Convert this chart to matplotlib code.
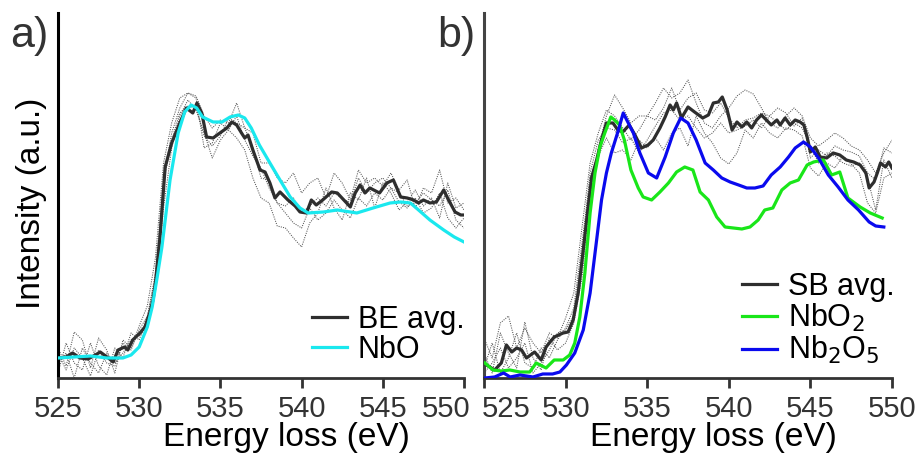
import matplotlib
matplotlib.use("Agg")
import matplotlib.pyplot as plt
import matplotlib.transforms as mtransforms

plt.rcParams['font.family'] = ['Liberation Sans', 'DejaVu Sans']

# ---- panel a) data ----
be_x = [525.0, 525.5, 525.9, 526.35, 526.85, 527.3, 527.6, 528.1, 528.4, 528.7, 529.1, 529.3, 529.6,
        530.05, 530.35, 530.65, 530.85, 531.0, 531.28, 531.6, 532.0, 532.5, 532.9, 533.3, 533.56,
        533.85, 534.15, 534.55, 534.97, 535.4, 535.7, 536.0, 536.3, 536.5, 536.7, 537.0, 537.44,
        537.75, 538.05, 538.36, 538.67, 539.16, 539.6, 539.9, 540.3, 540.6, 540.9, 541.3, 541.85,
        542.2, 542.6, 543.0, 543.3, 543.6, 543.9, 544.2, 544.8, 545.25, 545.65, 546.1, 546.5,
        546.9, 547.2, 547.5, 547.9, 548.3, 548.75, 549.05, 549.45, 549.8, 550.0]
be_y = [20, 21, 25, 20, 19, 23, 26, 20, 16, 28, 31, 28, 38, 45, 51, 65, 78, 95, 141, 211, 235, 255,
        270, 265, 275, 265, 241, 240, 245, 250, 256, 253, 245, 240, 243, 228, 208, 206, 195, 180,
        186, 178, 172, 166, 165, 178, 173, 178, 186, 185, 178, 171, 185, 193, 185, 190, 185, 195,
        198, 181, 180, 178, 175, 178, 175, 176, 188, 178, 166, 163, 163]

nbo_x = [525, 526, 527, 528, 529, 529.5, 530, 530.5, 530.8, 531.1, 531.4, 531.9, 532.4, 532.8,
         533.2, 533.54, 533.9, 534.55, 535.1, 535.6, 536.1, 536.5, 536.9, 537.4, 538.05, 538.67,
         539.3, 539.9, 540.4, 541.35, 542.2, 543.4, 544.4, 545.45, 546.1, 546.7, 547.2, 547.9,
         548.75, 549.4, 550]
nbo_y = [20, 21, 22, 20, 20, 23, 31, 51, 71, 100, 131, 198, 245, 266, 273, 270, 261, 256, 256,
         261, 263, 260, 250, 233, 215, 198, 181, 170, 165, 166, 168, 165, 170, 175, 176, 175, 168,
         158, 148, 141, 136]

# single spectra (dotted), sampled every 0.5 eV
grid = [525 + 0.5 * i for i in range(51)]
be_raw1 = [30, 12, 46, 38, 10, 40, 28, 5, 38, 30, 52, 72, 120, 215, 255, 280, 285, 282, 262, 250,
           258, 255, 275, 250, 245, 215, 215, 200, 195, 205, 185, 195, 200, 180, 205, 195, 178, 208,
           195, 200, 192, 205, 188, 198, 170, 190, 185, 208, 175, 180, 168]
be_raw2 = [5, 35, 15, 8, 35, 12, 3, 30, 20, 45, 38, 60, 105, 200, 245, 270, 285, 280, 230, 235,
           255, 248, 240, 228, 200, 180, 175, 152, 150, 140, 131, 155, 165, 190, 170, 158, 185, 178,
           200, 170, 195, 185, 168, 176, 188, 172, 180, 160, 195, 170, 175]
be_raw3 = [15, 25, 0, 30, 15, 5, 25, 15, 25, 38, 42, 50, 88, 170, 230, 262, 278, 268, 245, 220,
           238, 248, 262, 238, 222, 210, 190, 175, 165, 155, 150, 170, 158, 165, 178, 168, 160, 180,
           172, 185, 178, 190, 176, 170, 180, 165, 170, 185, 160, 150, 160]
be_raw4 = [25, 8, 30, 20, 2, 28, 15, 12, 35, 28, 48, 62, 100, 195, 238, 265, 272, 270, 242, 232,
           242, 260, 255, 250, 230, 200, 198, 175, 172, 180, 165, 172, 180, 172, 185, 180, 175, 200,
           185, 195, 200, 190, 185, 172, 175, 185, 178, 172, 188, 158, 150]

# ---- panel b) data ----
sb_x = [525.15, 525.65, 526.06, 526.37, 526.7, 527.0, 527.3, 527.6, 528.1, 528.5, 528.8, 529.3,
        529.85, 530.15, 530.46, 530.77, 531.08, 531.38, 531.6, 531.9, 532.2, 532.5, 532.9, 533.2,
        533.5, 533.9, 534.25, 534.65, 535.05, 535.37, 535.78, 536.1, 536.4, 536.6, 536.8, 537.1,
        537.5, 537.9, 538.4, 538.75, 539.05, 539.36, 539.6, 539.9, 540.2, 540.5, 540.8, 541.1,
        541.4, 541.7, 542.0, 542.3, 542.6, 542.95, 543.15, 543.45, 543.76, 544.07, 544.37, 544.6,
        544.8, 545.0, 545.3, 545.6, 546.0, 546.4, 546.8, 547.2, 547.65, 548.05, 548.4, 548.6,
        548.9, 549.1, 549.3, 549.6, 549.8, 550.0]
sb_y = [13, 8, 15, 33, 26, 30, 28, 20, 26, 18, 31, 41, 45, 46, 58, 85, 128, 171, 201, 218, 238,
        255, 255, 248, 246, 253, 243, 230, 233, 238, 250, 261, 273, 268, 275, 260, 271, 266, 260,
        263, 275, 276, 281, 268, 248, 256, 251, 256, 250, 258, 263, 258, 253, 258, 253, 260, 253,
        258, 256, 253, 241, 226, 231, 221, 220, 225, 223, 218, 216, 213, 205, 190, 196, 205, 215,
        211, 216, 210]

nbo2_x = [525.05, 525.55, 526.06, 526.58, 527.2, 527.8, 528.2, 528.8, 529.3, 529.85, 530.25,
          530.56, 530.87, 531.18, 531.5, 531.8, 532.1, 532.4, 532.77, 533.0, 533.3, 533.6, 534.0,
          534.45, 534.75, 535.27, 535.78, 536.3, 536.8, 537.3, 537.8, 538.24, 538.75, 539.26,
          539.77, 540.28, 540.8, 541.3, 541.8, 542.2, 542.7, 543.25, 543.76, 544.27, 544.8, 545.2,
          545.8, 546.3, 546.8, 547.3, 548.05, 548.67, 549.4]
nbo2_y = [15, 8, 7, 8, 6, 6, 15, 10, 18, 18, 23, 35, 61, 105, 165, 205, 231, 245, 261, 258, 253,
          238, 208, 190, 181, 178, 186, 195, 206, 211, 208, 186, 178, 161, 151, 150, 149, 151, 158,
          168, 170, 188, 195, 198, 213, 216, 218, 203, 206, 180, 171, 165, 160]

nb2o5_x = [525.05, 525.65, 526.2, 526.6, 527.2, 528.0, 528.6, 529.2, 529.65, 530.05, 530.56,
           531.08, 531.5, 531.9, 532.2, 532.5, 532.8, 533.2, 533.53, 533.84, 534.15, 534.55,
           535.07, 535.58, 536.1, 536.6, 537.05, 537.5, 538.0, 538.55, 539.05, 539.57, 540.08,
           540.6, 541.1, 541.6, 542.1, 542.6, 543.15, 543.66, 544.07, 544.58, 545.0, 545.5, 546.1,
           546.7, 547.3, 547.95, 548.6, 549.0, 549.5]
nb2o5_y = [0, 1, 5, 1, 3, 1, 4, 4, 6, 13, 25, 48, 85, 138, 178, 205, 225, 246, 265, 255, 245,
           225, 205, 200, 221, 245, 260, 255, 238, 215, 208, 200, 196, 193, 190, 190, 192, 203,
           211, 221, 230, 236, 231, 220, 203, 191, 178, 168, 156, 152, 151]

sb_raw1 = [40, 20, 55, 62, 30, 50, 35, 25, 45, 40, 60, 85, 150, 215, 245, 268, 262, 250, 238, 248,
           262, 275, 290, 280, 285, 298, 275, 255, 250, 262, 270, 282, 288, 284, 270, 255, 250, 262,
           270, 262, 240, 232, 238, 245, 240, 232, 228, 218, 205, 225, 238]
sb_raw2 = [10, 35, 5, 20, 45, 15, 10, 30, 20, 38, 50, 70, 135, 200, 222, 240, 225, 228, 218, 238,
           230, 240, 228, 245, 250, 232, 262, 245, 235, 220, 214, 225, 248, 240, 255, 245, 240, 250,
           248, 242, 210, 202, 215, 210, 222, 214, 205, 175, 165, 200, 205]
sb_raw3 = [25, 5, 45, 25, 10, 56, 20, 8, 40, 28, 35, 55, 100, 180, 230, 262, 283, 270, 255, 262,
           262, 258, 270, 290, 268, 280, 285, 268, 265, 275, 260, 250, 258, 260, 265, 262, 270, 265,
           252, 260, 220, 228, 222, 232, 228, 226, 222, 205, 198, 230, 225]
sb_raw4 = [5, 15, 30, 10, 20, 35, 5, 15, 28, 45, 48, 62, 125, 205, 238, 250, 248, 235, 240, 225,
           238, 252, 265, 268, 258, 262, 250, 240, 245, 255, 245, 248, 252, 258, 250, 262, 255, 248,
           255, 250, 232, 215, 225, 222, 215, 212, 215, 200, 168, 218, 200]

xticks = [525, 530, 535, 540, 545, 550]

fig = plt.figure(figsize=(9.19, 4.59), dpi=100)
ax_a = fig.add_axes([0.0631, 0.1765, 0.4418, 0.7952])
ax_b = fig.add_axes([0.5267, 0.1765, 0.4439, 0.7952])


def style_axis(ax, spine_color):
    ax.set_xlim(525, 550)
    ax.set_ylim(0, 365)
    for side in ['top', 'right']:
        ax.spines[side].set_visible(False)
    ax.spines['left'].set_linewidth(2.2)
    ax.spines['left'].set_color(spine_color)
    ax.spines['bottom'].set_linewidth(2.0)
    ax.spines['bottom'].set_color('#333333')
    ax.set_xticks(xticks)
    ax.set_yticks([])
    ax.tick_params(axis='x', direction='out', length=7, width=2, color='#333333',
                   labelsize=21, labelcolor='#333333', pad=5)
    ax.set_xlabel('Energy loss (eV)', fontsize=24)
    ax.xaxis.set_label_coords(0.563, -0.12)


def shift_label(lbl, dx_px):
    offset = mtransforms.ScaledTranslation(dx_px / 100, 0, fig.dpi_scale_trans)
    lbl.set_transform(lbl.get_transform() + offset)


raw_style = dict(color='#555555', lw=0.75, ls=(0, (1, 1.2)), zorder=1)
leg_style = dict(loc='upper left', frameon=False, fontsize=22, handlelength=1.15,
                 handletextpad=0.35, labelspacing=0.0, borderpad=0, borderaxespad=0)

for raw in [be_raw1, be_raw2, be_raw3, be_raw4]:
    ax_a.plot(grid, raw, **raw_style)
ax_a.plot(be_x, be_y, color='#2e2e2e', lw=2.3, label='BE avg.', zorder=3)
ax_a.plot(nbo_x, nbo_y, color='#1ae8ee', lw=2.3, label='NbO', zorder=4)
style_axis(ax_a, 'black')
ax_a.set_ylabel('Intensity (a.u.)', fontsize=24)
ax_a.yaxis.set_label_coords(-0.027, 0.478)
ax_a.legend(bbox_to_anchor=(0.625, 0.20), **leg_style)

for raw in [sb_raw1, sb_raw2, sb_raw3, sb_raw4]:
    ax_b.plot(grid, raw, **raw_style)
ax_b.plot(sb_x, sb_y, color='#2e2e2e', lw=2.3, label='SB avg.', zorder=3)
ax_b.plot(nbo2_x, nbo2_y, color='#19e619', lw=2.3, label='NbO$_2$', zorder=4)
ax_b.plot(nb2o5_x, nb2o5_y, color='#0a0aee', lw=2.3, label='Nb$_2$O$_5$', zorder=5)
style_axis(ax_b, '#444444')
ax_b.legend(bbox_to_anchor=(0.632, 0.29), **leg_style)

# keep the end labels of the two panels apart
shift_label(ax_a.get_xticklabels()[-1], -18)
shift_label(ax_b.get_xticklabels()[0], 22)

fig.text(0.0109, 1 - 47 / 459, 'a)', fontsize=31, color='#333333', va='baseline')
fig.text(0.4755, 1 - 47 / 459, 'b)', fontsize=31, color='#333333', va='baseline')

fig.savefig('out.png', dpi=100)
